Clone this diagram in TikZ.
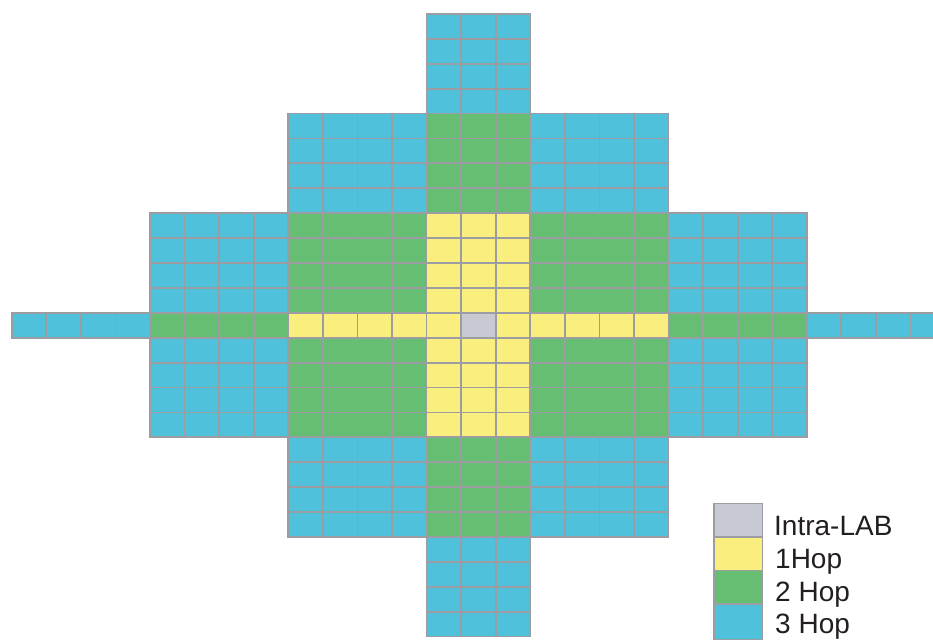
\documentclass[tikz,border=0pt]{standalone}
\usepackage{fontspec}
\setmainfont{Liberation Sans}
\definecolor{cgray}{RGB}{200,202,211}
\definecolor{cyellow}{RGB}{249,238,126}
\definecolor{cgreen}{RGB}{102,190,115}
\definecolor{cblue}{RGB}{80,193,219}
\definecolor{cline}{RGB}{155,157,162}
\definecolor{ctext}{RGB}{35,31,32}
\begin{document}
\begin{tikzpicture}[x=1pt,y=-1pt,
  cell/.style={draw=cline,line width=1.8pt},
  legtext/.style={anchor=base west,inner sep=0pt,text=ctext,font=\fontsize{28}{30}\selectfont}]
\useasboundingbox (0,0) rectangle (933,639);
\def\xo{11.7}\def\cw{34.57}\def\yo{14}\def\rh{24.9}
\foreach \bi in {-3,...,3}{%
  \foreach \bj in {-3,...,3}{%
    \pgfmathtruncatemacro{\hop}{abs(\bi)+abs(\bj)}%
    \ifnum\hop<4
      \pgfmathtruncatemacro{\cs}{\bj<0 ? (\bj+3)*4 : (\bj==0 ? 12 : 15+(\bj-1)*4)}%
      \pgfmathtruncatemacro{\ce}{\cs + (\bj==0 ? 2 : 3)}%
      \pgfmathtruncatemacro{\rs}{\bi<0 ? (\bi+3)*4 : (\bi==0 ? 12 : 13+(\bi-1)*4)}%
      \pgfmathtruncatemacro{\re}{\rs + (\bi==0 ? 0 : 3)}%
      \foreach \c in {\cs,...,\ce}{%
        \foreach \r in {\rs,...,\re}{%
          \ifcase\hop \def\col{cyellow}\or\def\col{cyellow}\or\def\col{cgreen}\or\def\col{cblue}\fi
          \ifnum\hop=0 \ifnum\c=13 \def\col{cgray}\fi\fi
          \filldraw[cell,fill=\col] ({\xo+\c*\cw},{\yo+\r*\rh}) rectangle ++(\cw,\rh);
        }%
      }%
    \fi
  }%
}
% legend
\filldraw[cell,fill=cgray]   (714,503.5) rectangle (762.5,537);
\filldraw[cell,fill=cyellow] (714,537) rectangle (762.5,570.5);
\filldraw[cell,fill=cgreen]  (714,570.5) rectangle (762.5,604);
\filldraw[cell,fill=cblue]   (714,604) rectangle (762.5,640);
\node[legtext] (l0) at (774,535) {Intra-LAB};
\node[legtext] (l1) at (775,568) {1Hop};
\node[legtext] (l2) at (775,601) {2 Hop};
\node[legtext] (l3) at (775,633.5) {3 Hop};
\end{tikzpicture}
\end{document}
